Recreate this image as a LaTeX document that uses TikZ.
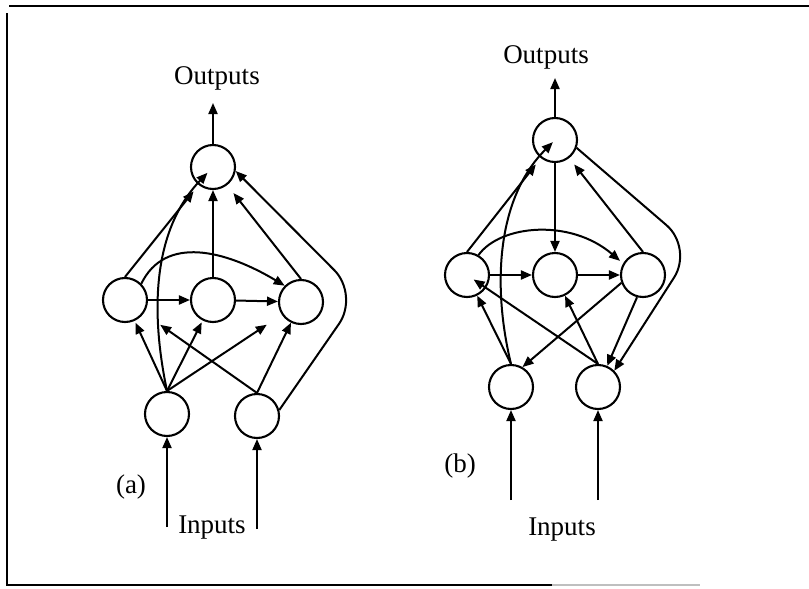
\documentclass[tikz,border=0pt]{standalone}
\usepackage{fontspec}
\setmainfont{Liberation Serif}
\usetikzlibrary{arrows.meta}
\begin{document}
\begin{tikzpicture}[x=1pt,y=-1pt,
  neuron/.style={circle,draw,line width=2.1pt,minimum size=44pt,inner sep=0pt},
  arr/.style={line width=2pt,-{Triangle[length=11pt,width=9pt]}},
  lbl/.style={font=\fontsize{27}{30}\selectfont,inner sep=0pt}]
\useasboundingbox (0,0) rectangle (809,589);
% frame
\draw[line width=1.6pt] (9,6) -- (809,6);
\draw[line width=1.6pt] (7,13) -- (7,585) -- (552,585);
\draw[line width=1.2pt,black!25] (552,585) -- (700,585);
% ---------- (a) ----------
\node[neuron] (Oa) at (213,167) {};
\node[neuron] (Ha1) at (125,300) {};
\node[neuron] (Ha2) at (213,300) {};
\node[neuron] (Ha3) at (301,302) {};
\node[neuron] (Ia1) at (167,414) {};
\node[neuron] (Ia2) at (257,416) {};
\node[lbl] (outa) at (217,78) {Outputs};
\node[lbl] (ina) at (212,528) {Inputs};
\node[lbl] (la) at (131,487) {(a)};
\coordinate (oa) at (213,103);
\coordinate (ia1s) at (167,527);
\coordinate (ia2s) at (257,529);
\coordinate (ka) at (359,295);
\draw[arr] (Oa.north) -- (oa);
\draw[arr] (ia1s) -- (Ia1.south);
\draw[arr] (ia2s) -- (Ia2.south);
\draw[arr,shorten >=2pt] (Ia1.north) -- (Ha1);
\draw[arr,shorten >=2pt] (Ia1.north) -- (Ha2);
\draw[arr,shorten >=18pt] (Ia1.north) -- (Ha3);
\draw[arr,shorten >=20pt] (Ia2.north) -- (Ha1);
\draw[arr] (Ia2.north) -- (Ha3);
\draw[arr] (Ha1) -- (Ha2);
\draw[arr] (Ha2) -- (Ha3);
\draw[arr] (Ha2) -- (Oa);
\draw[arr,shorten >=8pt] (Ha1.north) -- (Oa);
\draw[arr,shorten >=10pt] (Ha3.north) -- (Oa);
\draw[arr] (Ha1.45) .. controls (165,235) and (225,250) .. (Ha3.135);
\draw[arr,shorten >=8pt] (Ia1.north) .. controls (150,310) and (153,230) .. (Oa.center);
\draw[arr,rounded corners=35pt] (Ia2.15) -- (ka) -- (Oa.-10);
% ---------- (b) ----------
\node[neuron] (Ob) at (555,140) {};
\node[neuron] (Hb1) at (467,275) {};
\node[neuron] (Hb2) at (555,275) {};
\node[neuron] (Hb3) at (643,275) {};
\node[neuron] (Ib1) at (511,387) {};
\node[neuron] (Ib2) at (598,387) {};
\node[lbl] (outb) at (546,57) {Outputs};
\node[lbl] (inb) at (562,530) {Inputs};
\node[lbl] (lb) at (460,466) {(b)};
\coordinate (ob) at (555,78);
\coordinate (ib1s) at (511,500);
\coordinate (ib2s) at (598,500);
\coordinate (kb) at (693,248);
\draw[arr] (Ob.north) -- (ob);
\draw[arr] (ib1s) -- (Ib1.south);
\draw[arr] (ib2s) -- (Ib2.south);
\draw[arr] (Ib1.north) -- (Hb1);
\draw[arr,shorten >=3pt] (Ib1.north) .. controls (493,290) and (495,200) .. (Ob.center);
\draw[arr,shorten >=8pt] (Ib2.north) -- (Hb1.center);
\draw[arr] (Ib2.north) -- (Hb2);
\draw[arr] (Hb1) -- (Hb2);
\draw[arr] (Hb2) -- (Hb3);
\draw[arr] (Ob) -- (Hb2);
\draw[arr,shorten >=8pt] (Hb1.north) -- (Ob);
\draw[arr,shorten >=8pt] (Hb3.north) -- (Ob);
\draw[arr,shorten >=4pt] (Hb1.60) .. controls (500,225) and (570,218) .. (Hb3.150);
\draw[arr] (Hb3.200) -- (Ib1.60);
\draw[arr] (Hb3.255) -- (Ib2);
\draw[arr,rounded corners=35pt] (Ob.-20) -- (kb) -- (Ib2.45);
\end{tikzpicture}
\end{document}
